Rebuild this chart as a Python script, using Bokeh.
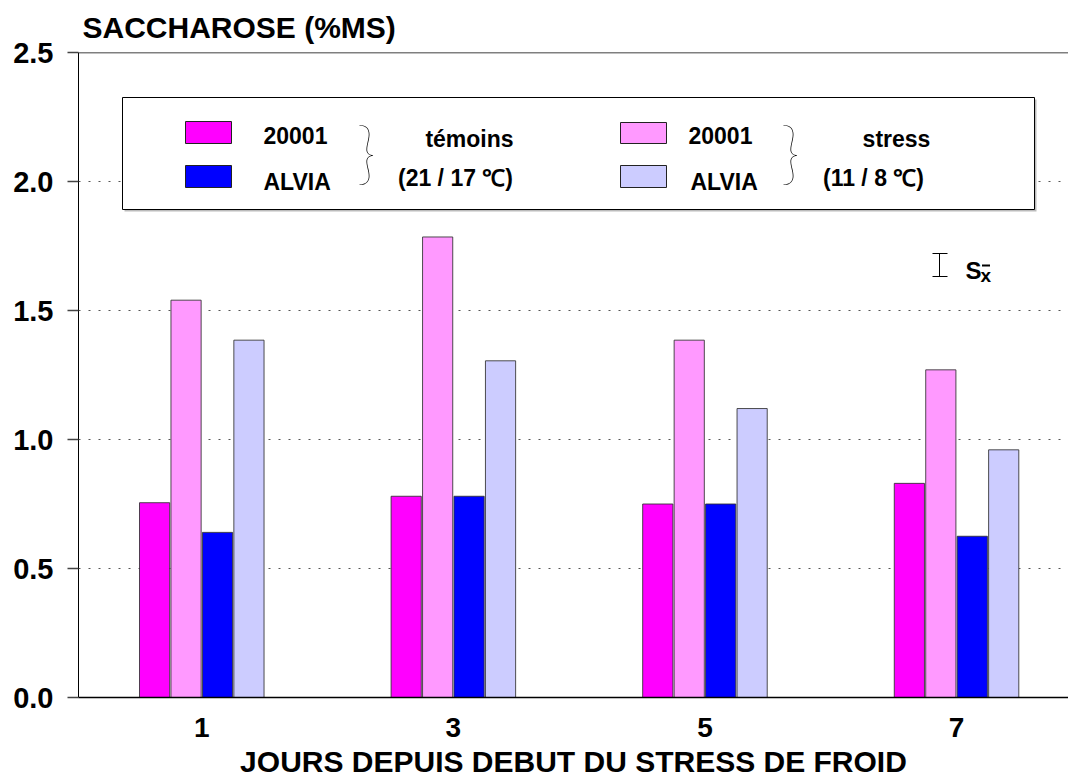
from bokeh.plotting import figure
from bokeh.models import Range1d, FixedTicker, Label, BoxAnnotation, Span, ColumnDataSource
from bokeh.embed import file_html
from bokeh.resources import INLINE
from bokeh.transform import dodge

# ---- data ----
days = [1, 3, 5, 7]
day_labels = ["1", "3", "5", "7"]
temoin_20001 = [0.755, 0.78, 0.75, 0.83]
stress_20001 = [1.54, 1.785, 1.385, 1.27]
temoin_alvia = [0.64, 0.78, 0.75, 0.625]
stress_alvia = [1.385, 1.305, 1.12, 0.96]
y_ticks = [0.0, 0.5, 1.0, 1.5, 2.0, 2.5]
y_tick_labels = ["0.0", "0.5", "1.0", "1.5", "2.0", "2.5"]
grid_values = [0.5, 1.0, 1.5, 2.0]

title_text = "SACCHAROSE (%MS)"
x_title = "JOURS DEPUIS DEBUT DU STRESS DE FROID"

C_T20001 = "#FF00FF"
C_S20001 = "#FF99FF"
C_TALVIA = "#0000FF"
C_SALVIA = "#CCCCFF"

FONT = "Liberation Sans"

src = ColumnDataSource(dict(day=days, t20001=temoin_20001, s20001=stress_20001,
                            talvia=temoin_alvia, salvia=stress_alvia))

p = figure(frame_width=990, frame_height=645, width=1068, height=780,
           output_backend="svg", toolbar_location=None,
           x_range=Range1d(0.02, 7.89), y_range=Range1d(0, 2.5),
           min_border_left=78, min_border_right=0, min_border_top=52, min_border_bottom=83,
           title=title_text)
p.outline_line_color = None
p.background_fill_color = "white"

p.title.align = "left"
p.title.offset = 4
p.title.standoff = 17
p.title.text_font = FONT
p.title.text_font_size = "30px"
p.title.text_font_style = "bold"
p.title.text_color = "black"

series = [("t20001", C_T20001, -0.375), ("s20001", C_S20001, -0.125),
          ("talvia", C_TALVIA, 0.125), ("salvia", C_SALVIA, 0.375)]
for col, colr, off in series:
    p.vbar(x=dodge("day", off, range=p.x_range), top=col, width=0.24, bottom=0,
           source=src, fill_color=colr, line_color="#303030", line_width=1, line_alpha=0.85)

# axes
p.xaxis.ticker = FixedTicker(ticks=days)
p.xaxis.major_label_overrides = {d: l for d, l in zip(days, day_labels)}
p.xaxis.major_tick_line_color = None
p.xaxis.minor_tick_line_color = None
p.xaxis.axis_line_color = "black"
p.xaxis.axis_line_width = 1.5
p.xaxis.major_label_text_font = FONT
p.xaxis.major_label_text_font_style = "bold"
p.xaxis.major_label_text_font_size = "28px"
p.xaxis.major_label_text_color = "black"
p.xaxis.major_label_standoff = 14
p.xaxis.axis_label = x_title
p.xaxis.axis_label_text_font = FONT
p.xaxis.axis_label_text_font_style = "bold"
p.xaxis.axis_label_text_font_size = "30px"
p.xaxis.axis_label_text_color = "black"
p.xaxis.axis_label_standoff = 5

p.yaxis.ticker = FixedTicker(ticks=y_ticks)
p.yaxis.major_label_overrides = {t: l for t, l in zip(y_ticks, y_tick_labels)}
p.yaxis.minor_tick_line_color = None
p.yaxis.major_tick_in = 0
p.yaxis.major_tick_out = 11
p.yaxis.major_tick_line_color = "#444444"
p.yaxis.major_tick_line_width = 1.5
p.yaxis.axis_line_color = "black"
p.yaxis.axis_line_width = 1
p.yaxis.major_label_text_font = FONT
p.yaxis.major_label_text_font_style = "bold"
p.yaxis.major_label_text_font_size = "29px"
p.yaxis.major_label_text_color = "black"
p.yaxis.major_label_standoff = 14

p.xgrid.grid_line_color = None
p.ygrid.ticker = FixedTicker(ticks=grid_values)
p.ygrid.grid_line_color = "#555555"
p.ygrid.grid_line_dash = "2 8"
p.ygrid.grid_line_width = 1

p.add_layout(Span(location=2.5, dimension="width", line_color="black", line_width=1.5))

# helpers: reference pixel -> frame screen coords
FX0, FY0 = 78, 697
def sx(X):
    return X - FX0
def sy(Y):
    return FY0 - Y

def lab(text, X, Y, size, align="left", bold=True, font=FONT, baseline="alphabetic"):
    p.add_layout(Label(x=sx(X), y=sy(Y), x_units="screen", y_units="screen", text=text,
                       text_font=font, text_font_size=size,
                       text_font_style="bold" if bold else "normal",
                       text_align=align, text_baseline=baseline, text_color="black"))

def box(X0, Y0, X1, Y1, fill, line="black", lw=1):
    p.add_layout(BoxAnnotation(left=sx(X0), right=sx(X1), top=sy(Y0), bottom=sy(Y1),
                               left_units="screen", right_units="screen",
                               top_units="screen", bottom_units="screen",
                               fill_color=fill, fill_alpha=1 if fill else 0,
                               line_color=line, line_width=lw, line_alpha=1 if line else 0))

# legend box
box(124, 99, 1036, 211, "#BBBBBB", None)
box(122, 97, 1034, 209, "white", "black", 1)
box(185, 121, 231, 143, C_T20001, "#222222")
box(185, 165, 231, 187, C_TALVIA, "#222222")
box(620, 122, 666, 143, C_S20001, "#222222")
box(620, 165, 666, 187, C_SALVIA, "#222222")
lab("20001", 263, 135, "23px")
lab("ALVIA", 263, 181, "23px")
lab("20001", 688, 135, "23px")
lab("ALVIA", 690, 181, "23px")
lab("témoins", 469, 138, "23px", align="center")
lab("(21 / 17 \u2103)", 455, 177, "23px", align="center")
lab("stress", 896, 138, "23px", align="center")
lab("(11 / 8 \u2103)", 873, 177, "23px", align="center")
lab("}", 356, 150, "68px", bold=False, font="Lato Hairline")
lab("}", 780, 150, "68px", bold=False, font="Lato Hairline")

# standard error symbol
box(938.5, 253, 939.5, 276, "black", None)
box(932, 252.5, 947, 253.5, "black", None)
box(932, 275.5, 947, 276.5, "black", None)
lab("S", 965, 270, "24px")
lab("x", 980, 275, "19px")
box(981.5, 264, 989.5, 266, "black", None)

open("out.html", "w").write(file_html(p, INLINE))
